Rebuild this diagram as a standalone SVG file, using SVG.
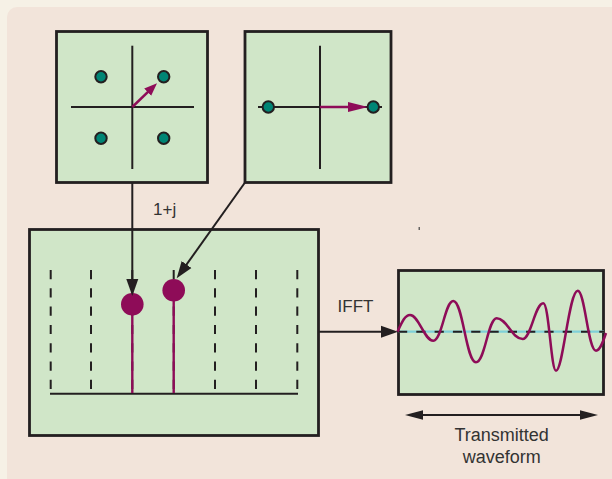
<svg xmlns="http://www.w3.org/2000/svg" width="612" height="479" viewBox="0 0 612 479">
<style>
.box{fill:#d0e6c8;stroke:#231f20;stroke-width:2.8}
.ax{stroke:#231f20;stroke-width:2;fill:none}
.dot{fill:#008575;stroke:#231f20;stroke-width:2}
.mag{stroke:#8e0c58;fill:none}
.dash{stroke:#231f20;stroke-width:2;stroke-dasharray:9.2 9.1;fill:none}
.con{stroke:#231f20;stroke-width:2;fill:none}
text{font-family:"Liberation Sans",Arial,sans-serif;fill:#333;font-size:17px}
.big{font-size:18px}
</style>
<defs>
<marker id="ah" markerUnits="userSpaceOnUse" markerWidth="20" markerHeight="14" viewBox="0 -7 20 14" refX="7" refY="0" orient="auto-start-reverse"><path d="M0,-6 L17,0 L0,6 z" fill="#231f20"/></marker>
<marker id="ahw" markerUnits="userSpaceOnUse" markerWidth="20" markerHeight="14" viewBox="0 -7 20 14" refX="8" refY="0" orient="auto-start-reverse"><path d="M0,-4.8 L18,0 L0,4.8 z" fill="#231f20"/></marker>
<marker id="mh1" markerUnits="userSpaceOnUse" markerWidth="16" markerHeight="12" viewBox="0 -6 16 12" refX="7" refY="0" orient="auto"><path d="M0,-5 L13,0 L0,5 z" fill="#8e0c58"/></marker>
<marker id="mh2" markerUnits="userSpaceOnUse" markerWidth="22" markerHeight="12" viewBox="0 -6 22 12" refX="8" refY="0" orient="auto"><path d="M0,-5 L20,0 L0,5 z" fill="#8e0c58"/></marker>
</defs>
<rect x="0" y="0" width="612" height="479" fill="#f6f1e6"/>
<rect x="7" y="7" width="640" height="500" rx="10" fill="#f2e4da"/>
<rect x="418.6" y="227" width="1.2" height="3" fill="#444"/>

<g id="qpsk">
<rect class="box" x="56.5" y="31.5" width="151" height="151"/>
<line class="ax" x1="71" y1="107" x2="194" y2="107"/>
<line class="ax" x1="132.3" y1="45.7" x2="132.3" y2="169"/>
<line class="mag" stroke-width="2.5" x1="132.3" y1="107" x2="152.7" y2="87.3" marker-end="url(#mh1)"/>
<circle class="dot" cx="101" cy="76.7" r="5.7"/>
<circle class="dot" cx="163.7" cy="76.7" r="5.7"/>
<circle class="dot" cx="101" cy="138.3" r="5.7"/>
<circle class="dot" cx="163.7" cy="138.3" r="5.7"/>
</g>

<g id="bpsk">
<rect class="box" x="245" y="31.5" width="146" height="151"/>
<line class="ax" x1="320" y1="45.7" x2="320" y2="169"/>
<line class="ax" x1="258" y1="107" x2="382" y2="107"/>
<line class="mag" stroke-width="2.5" x1="320" y1="107" x2="356" y2="107" marker-end="url(#mh2)"/>
<circle class="dot" cx="268.3" cy="107" r="5.7"/>
<circle class="dot" cx="373.3" cy="107" r="5.7"/>
</g>

<g id="subcarriers">
<rect class="box" x="29.5" y="229.5" width="289" height="206"/>
<line class="dash" x1="50.7" y1="270" x2="50.7" y2="389"/>
<line class="dash" x1="91" y1="270" x2="91" y2="389"/>
<line class="dash" x1="132.3" y1="270" x2="132.3" y2="389"/>
<line class="dash" x1="173.7" y1="270" x2="173.7" y2="389"/>
<line class="dash" x1="215" y1="270" x2="215" y2="389"/>
<line class="dash" x1="256" y1="270" x2="256" y2="389"/>
<line class="dash" x1="297.3" y1="270" x2="297.3" y2="389"/>
<line class="ax" x1="50" y1="393.7" x2="298" y2="393.7"/>
<line class="mag" stroke-width="2.4" x1="132.3" y1="304" x2="132.3" y2="393"/>
<line class="mag" stroke-width="2.4" x1="173.7" y1="290" x2="173.7" y2="393"/>
<circle cx="132.3" cy="304.3" r="11.3" fill="#8e0c58"/>
<circle cx="173.7" cy="290.3" r="11.3" fill="#8e0c58"/>
</g>

<g id="waveform">
<rect class="box" x="398.5" y="270.5" width="205" height="124"/>
<line x1="398" y1="331.7" x2="604" y2="331.7" stroke="#7fd0d8" stroke-width="2.2"/>
<line class="dash" x1="398" y1="331.7" x2="604" y2="331.7"/>
<path class="mag" stroke-width="2.5" d="M397.5,331.7 C402,322 405,315 410,315 C419,315 424,340.7 433.3,340.7 C442,340.7 445,301 453.3,301 C463,301 466,362.3 476,362.3 C485,362.3 488,318.3 496.7,318.3 C507,318.3 512,339 522.7,339 C531,339 535,303.3 543.3,303.3 C549,303.3 551,370.7 556,370.7 C563,370.7 569,290.7 577.7,290.7 C585,290.7 588,350.7 596,350.7 C600,350.7 603,342 606,333"/>
</g>

<g id="connectors">
<line class="con" x1="132.3" y1="183" x2="132.3" y2="286" marker-end="url(#ah)"/>
<line class="con" x1="245" y1="182.5" x2="182.5" y2="270.2" marker-end="url(#ah)"/>
<line class="con" x1="318" y1="331.7" x2="388" y2="331.7" marker-end="url(#ah)"/>
<line class="con" x1="415" y1="415" x2="588" y2="415" marker-start="url(#ahw)" marker-end="url(#ahw)"/>
</g>

<g id="labels">
<text x="153" y="215">1+j</text>
<text x="355.5" y="311.5" text-anchor="middle">IFFT</text>
<text class="big" x="501.7" y="440.5" text-anchor="middle">Transmitted</text>
<text class="big" x="501.7" y="462.5" text-anchor="middle">waveform</text>
</g>
</svg>
